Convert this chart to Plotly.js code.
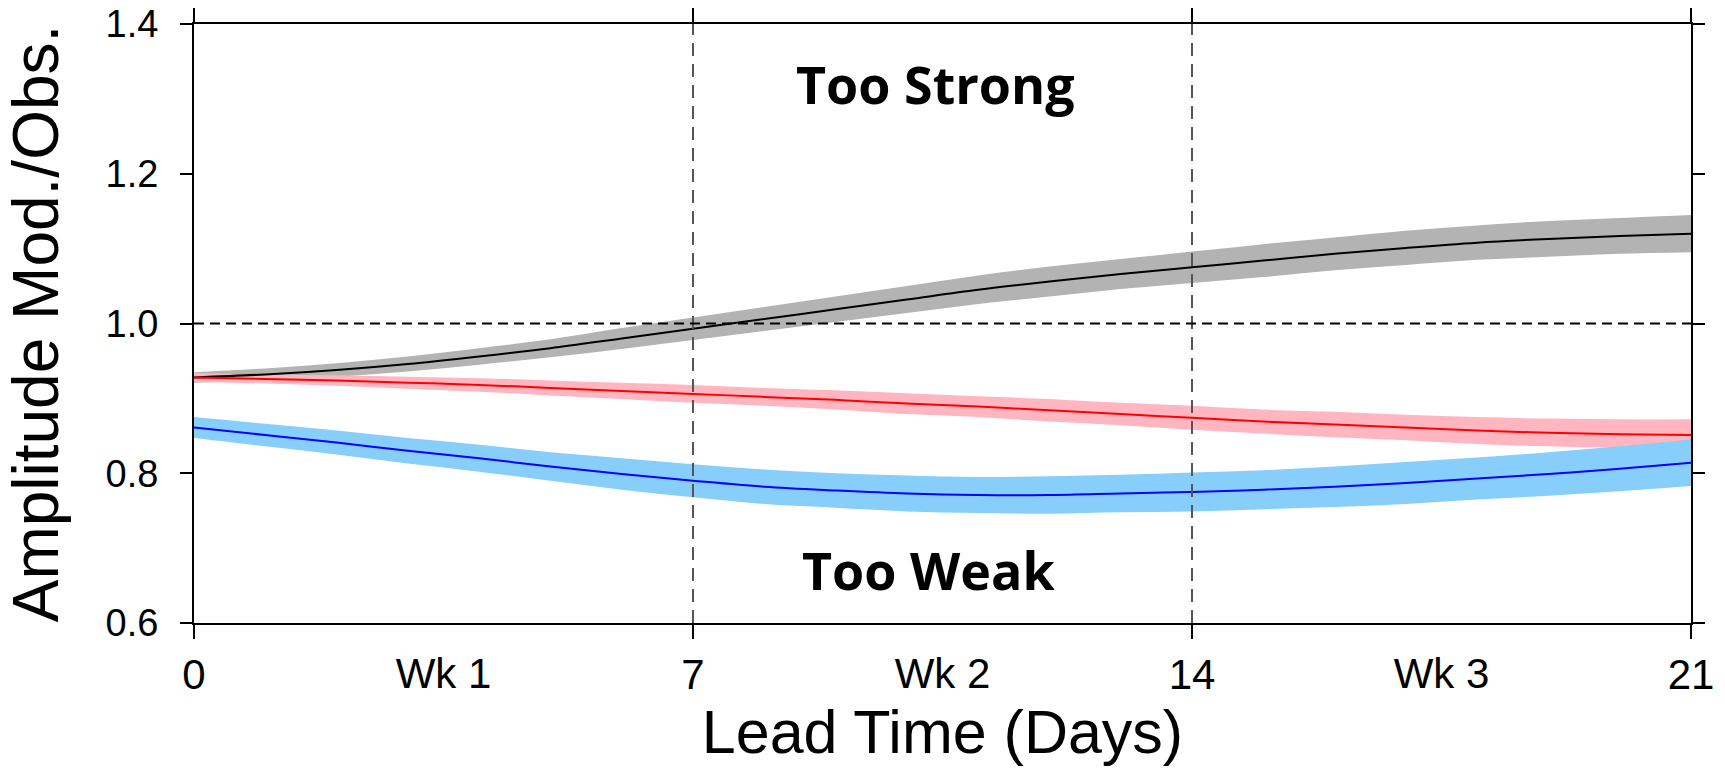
<!DOCTYPE html>
<html>
<head>
<meta charset="utf-8">
<script src="https://cdn.plot.ly/plotly-3.0.1.min.js"></script>
<style>html,body{margin:0;padding:0;background:#fff;}#chart{width:1725px;height:782px;}</style>
</head>
<body>
<div id="chart"></div>
<script>
// Lead time in days
const days = [0,1,2,3,4,5,6,7,8,9,10,11,12,13,14,15,16,17,18,19,20,21];

// Black (gray band)
const blackMid = [0.928,0.932,0.938,0.946,0.956,0.967,0.980,0.993,1.006,1.019,1.032,1.045,1.056,1.066,1.075,1.084,1.093,1.101,1.108,1.113,1.117,1.120];
const blackLo  = [0.921,0.924,0.929,0.936,0.945,0.955,0.966,0.978,0.990,1.002,1.014,1.026,1.036,1.046,1.054,1.062,1.071,1.078,1.085,1.089,1.093,1.095];
const blackHi  = [0.935,0.940,0.947,0.956,0.967,0.979,0.994,1.008,1.022,1.036,1.050,1.064,1.076,1.086,1.096,1.106,1.115,1.124,1.131,1.137,1.141,1.145];

// Red (pink band)
const redMid = [0.928,0.926,0.924,0.921,0.918,0.914,0.910,0.906,0.902,0.898,0.893,0.889,0.884,0.879,0.874,0.869,0.865,0.861,0.857,0.854,0.852,0.851];
const redLo  = [0.922,0.920,0.917,0.913,0.909,0.904,0.899,0.894,0.890,0.885,0.879,0.875,0.869,0.864,0.858,0.853,0.848,0.844,0.839,0.836,0.834,0.834];
const redHi  = [0.934,0.932,0.931,0.929,0.927,0.924,0.921,0.918,0.914,0.911,0.907,0.903,0.899,0.894,0.890,0.885,0.882,0.878,0.875,0.873,0.872,0.872];

// Blue (light blue band)
const blueMid = [0.861,0.851,0.841,0.830,0.820,0.809,0.799,0.790,0.782,0.777,0.773,0.771,0.771,0.773,0.775,0.778,0.782,0.787,0.793,0.799,0.806,0.814];
const blueLo  = [0.847,0.836,0.825,0.813,0.802,0.790,0.778,0.768,0.759,0.754,0.749,0.747,0.746,0.748,0.749,0.752,0.755,0.759,0.765,0.770,0.776,0.783];
const blueHi  = [0.875,0.866,0.857,0.847,0.838,0.828,0.820,0.812,0.805,0.800,0.797,0.795,0.796,0.798,0.801,0.804,0.809,0.815,0.821,0.828,0.836,0.845];

// Tick labels
const dayTickVals = [0,7,14,21];
const dayTickText = ['0','7','14','21'];
const weekTickVals = [3.5,10.5,17.5];
const weekTickText = ['Wk 1','Wk 2','Wk 3'];
const yTickVals = [0.6,0.8,1.0,1.2,1.4];
const yTickText = ['0.6','0.8','1.0','1.2','1.4'];

function band(lo, hi, color) {
  return [
    {x: days, y: lo, mode: 'lines', line: {width: 0, shape: 'spline', color: color}, hoverinfo: 'skip', showlegend: false},
    {x: days, y: hi, mode: 'lines', line: {width: 0, shape: 'spline', color: color}, fill: 'tonexty', fillcolor: color, hoverinfo: 'skip', showlegend: false}
  ];
}
function line(mid, color) {
  return {x: days, y: mid, mode: 'lines', line: {width: 2, shape: 'spline', color: color}, showlegend: false};
}

const data = [].concat(
  band(blackLo, blackHi, '#b3b3b3'),
  band(redLo, redHi, '#ffb6c1'),
  band(blueLo, blueHi, '#87cefa'),
  [line(blackMid, '#000000'), line(redMid, '#ff0000'), line(blueMid, '#0000ff')],
  [{x: weekTickVals, y: [null,null,null], xaxis: 'x2', mode: 'markers', showlegend: false, hoverinfo: 'skip'}]
);

const axisFont = 'Liberation Sans, Arial, Helvetica, sans-serif';

const layout = {
  width: 1725, height: 782,
  margin: {l: 194, r: 34, t: 24, b: 159},
  paper_bgcolor: '#ffffff', plot_bgcolor: '#ffffff',
  showlegend: false,
  xaxis: {
    range: [0, 21], tickmode: 'array', tickvals: dayTickVals, ticktext: dayTickText,
    ticks: 'outside', ticklen: 14, tickwidth: 2, tickcolor: '#000',
    showline: true, linecolor: '#000', linewidth: 2, mirror: 'ticks',
    showgrid: false, zeroline: false,
    tickfont: {family: axisFont, size: 42, color: '#000'},
    ticklabelstandoff: 0,
    title: {text: 'Lead Time (Days)', font: {family: axisFont, size: 61, color: '#000'}, standoff: 0}
  },
  xaxis2: {
    range: [0, 21], overlaying: 'x', anchor: 'y', side: 'bottom',
    tickmode: 'array', tickvals: weekTickVals, ticktext: weekTickText,
    ticks: 'outside', ticklen: 14, tickwidth: 1, tickcolor: 'rgba(0,0,0,0)',
    showline: false, showgrid: false, zeroline: false,
    tickfont: {family: axisFont, size: 42, color: '#000'},
    ticklabelstandoff: 0
  },
  yaxis: {
    range: [0.6, 1.4], tickmode: 'array', tickvals: yTickVals, ticktext: yTickText,
    ticks: 'outside', ticklen: 12, tickwidth: 2, tickcolor: '#000',
    showline: true, linecolor: '#000', linewidth: 2, mirror: 'ticks',
    showgrid: false, zeroline: false,
    tickfont: {family: axisFont, size: 38, color: '#000'},
    ticklabelstandoff: 14,
    title: {text: 'Amplitude Mod./Obs.', font: {family: axisFont, size: 64, color: '#000'}, standoff: 28}
  },
  shapes: [
    {type: 'line', xref: 'x', yref: 'paper', x0: 7, x1: 7, y0: 0, y1: 1, layer: 'above', line: {color: '#555', width: 2, dash: '13px,8px'}},
    {type: 'line', xref: 'x', yref: 'paper', x0: 14, x1: 14, y0: 0, y1: 1, layer: 'above', line: {color: '#555', width: 2, dash: '13px,8px'}},
    {type: 'line', xref: 'paper', yref: 'y', x0: 0, x1: 1, y0: 1.0, y1: 1.0, layer: 'above', line: {color: '#000', width: 1.8, dash: '10px,6px'}}
  ],
  annotations: [
    {text: '<b>Too Strong</b>', xref: 'x', yref: 'y', x: 10.4, y: 1.32, showarrow: false, xanchor: 'center', yanchor: 'middle', font: {family: 'Open Sans, Noto Sans, sans-serif', size: 52, color: '#000'}},
    {text: '<b>Too Weak</b>', xref: 'x', yref: 'y', x: 10.3, y: 0.672, showarrow: false, xanchor: 'center', yanchor: 'middle', font: {family: 'Open Sans, Noto Sans, sans-serif', size: 52, color: '#000'}}
  ]
};

Plotly.newPlot('chart', data, layout, {displayModeBar: false, staticPlot: true});
</script>
</body>
</html>
